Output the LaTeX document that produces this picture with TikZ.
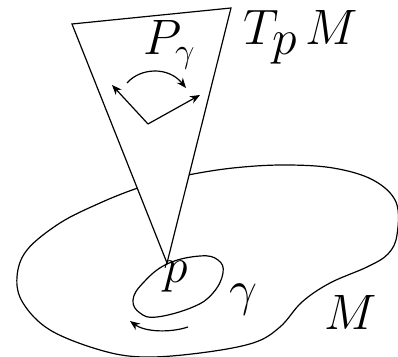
\documentclass[tikz,border=0pt]{standalone}
\usetikzlibrary{arrows.meta,positioning,calc}

\begin{document}
\begin{tikzpicture}[x=0.5pt,y=-0.5pt,line width=0.6pt,>={Stealth[length=5pt,width=4pt]},
  lab/.style={inner sep=0pt,anchor=base west,font=\fontsize{27}{30}\selectfont}]
  \useasboundingbox (0,0) rectangle (398,357);
  % manifold M
  \draw plot[smooth cycle,tension=0.6] coordinates {(188,175) (233,168) (283,165) (333,168) (373,180)
    (396,202) (397,235) (388,254) (367,267) (330,283) (302,302) (280,327) (253,343) (200,353)
    (143,357) (100,350) (50,330) (23,303) (17,277) (27,250) (60,223) (100,203) (135,189) (160,182)};
  % tangent plane
  \coordinate (apex) at (167,263);
  \coordinate (conel) at (72,24);
  \coordinate (coner) at (231,8);
  \filldraw[fill=white] (apex) -- (conel) -- (coner) -- cycle;
  % parallel transport of a vector pair
  \coordinate (vtx) at (148,124);
  \coordinate (vl) at (112,85);
  \coordinate (vr) at (200,95);
  \draw[->] (vtx) -- (vl);
  \draw[->] (vtx) -- (vr);
  \draw[->] (127,83) .. controls (140,68) and (168,66) .. (186,88);
  % loop gamma
  \draw plot[smooth cycle,tension=0.7] coordinates {(167,264) (200,256) (218,260) (223,273)
    (213,293) (193,307) (157,317) (140,313) (133,300) (143,283)};
  \draw[->] (188,327) .. controls (170,333) and (145,332) .. (130,321);
  % labels
  \node[lab] (Plab) at (143,55) {$P_\gamma$};
  \node[lab] (TpM) at (243,45) {$T_{\raisebox{-1pt}{\fontsize{23}{25}\selectfont$p$}}\mkern3mu M$};
  \node[lab] (plab) at (163,283) {$p$};
  \node[lab] (gamlab) at (229,306) {$\gamma$};
  \node[lab] (Mlab) at (324,330) {$M$};
\end{tikzpicture}
\end{document}
